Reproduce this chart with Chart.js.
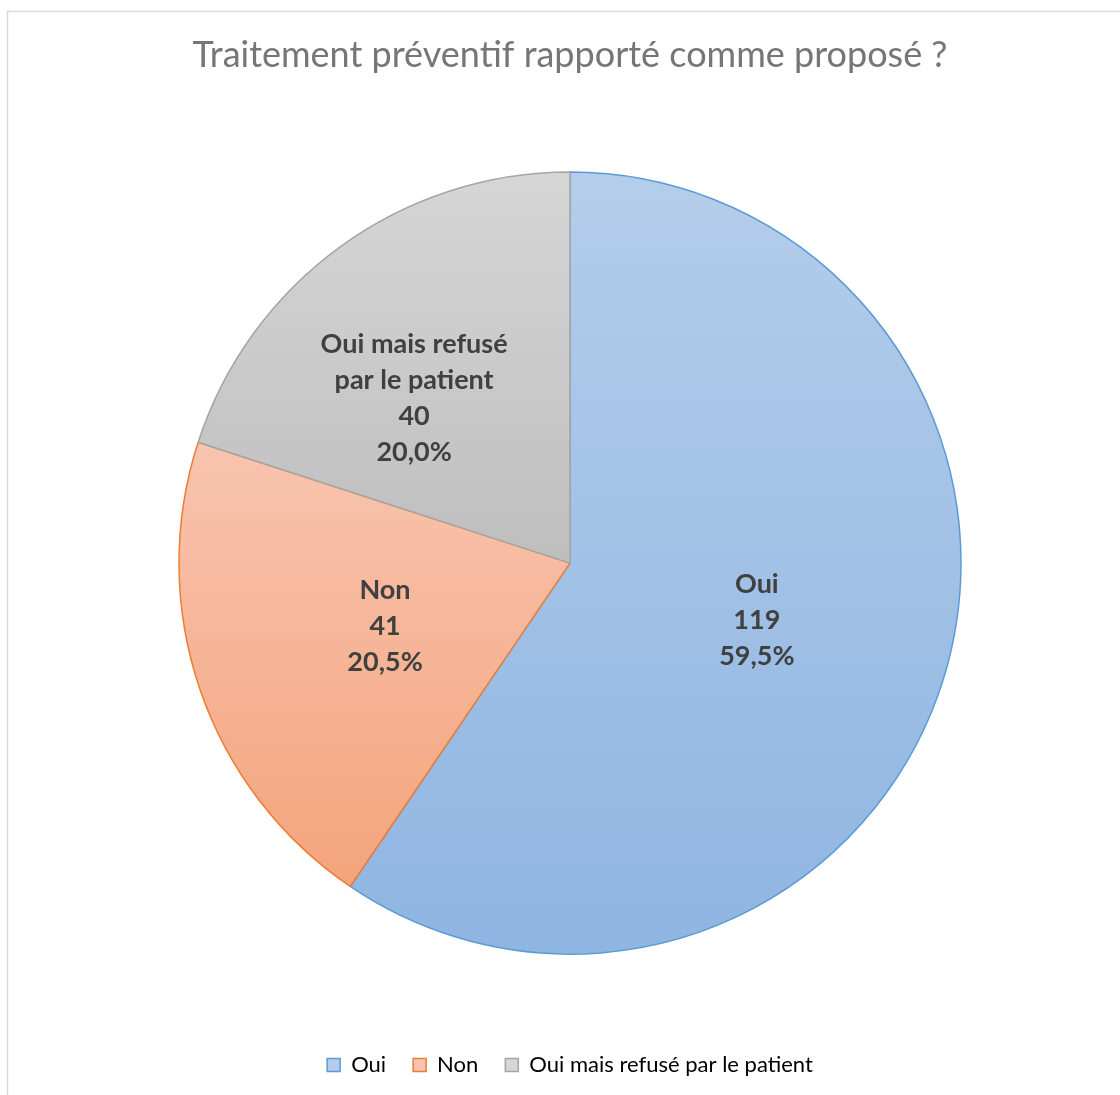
<!DOCTYPE html>
<html>
<head>
<meta charset="utf-8">
<script src="https://cdn.jsdelivr.net/npm/chart.js@4"></script>
<style>
	html, body { margin: 0; padding: 0; background: #fff; }
	canvas { display: block; }
</style>
</head>
<body>
<canvas id="pie" width="1120" height="1095"></canvas>
<script>
const categories = ['Oui', 'Non', 'Oui mais refusé par le patient'];
const counts = [119, 41, 40];
const chartTitle = 'Traitement préventif rapporté comme proposé ?';

// light (top) / dark (bottom) stops of each slice gradient, plus outline
const lightColors = ['rgb(180,205,234)', 'rgb(248,196,175)', 'rgb(214,214,214)'];
const darkColors = ['rgb(143,181,226)', 'rgb(244,164,124)', 'rgb(190,190,190)'];
const edgeColors = ['#5b9bd5', '#ed7d31', '#a5a5a5'];
const labelShift = [[0, 0], [0, 0], [-41, -7]];

const RADIUS = 391;
const total = counts.reduce((a, b) => a + b, 0);

function pct(v) {
	return (v / total * 100).toFixed(1).replace('.', ',') + '%';
}

// vertical extent of slice i (angles measured clockwise from 12 o'clock)
function sliceRange(i, cy) {
	let before = 0;
	for (let k = 0; k < i; k++) before += counts[k];
	const a0 = before / total * 2 * Math.PI;
	const a1 = (before + counts[i]) / total * 2 * Math.PI;
	const ys = [cy, cy - RADIUS * Math.cos(a0), cy - RADIUS * Math.cos(a1)];
	if (a0 <= 0.0001 || a1 >= 2 * Math.PI - 0.0001) ys.push(cy - RADIUS);
	if (a0 <= Math.PI && a1 >= Math.PI) ys.push(cy + RADIUS);
	return [Math.min(...ys), Math.max(...ys)];
}

function sliceFill(context) {
	const i = context.dataIndex;
	const area = context.chart.chartArea;
	if (i === undefined || !area) return lightColors[i || 0];
	const cy = (area.top + area.bottom) / 2;
	const [y0, y1] = sliceRange(i, cy);
	const g = context.chart.ctx.createLinearGradient(0, y0, 0, y1);
	g.addColorStop(0, lightColors[i]);
	g.addColorStop(1, darkColors[i]);
	return g;
}

const frame = {
	id: 'frame',
	beforeDraw(chart) {
		const ctx = chart.ctx;
		ctx.save();
		ctx.strokeStyle = '#d9d9d9';
		ctx.lineWidth = 1.5;
		ctx.strokeRect(7.5, 11.5, 1300, 1300);
		ctx.restore();
	}
};

const sliceLabels = {
	id: 'sliceLabels',
	afterDatasetsDraw(chart) {
		const ctx = chart.ctx;
		const arcs = chart.getDatasetMeta(0).data;
		ctx.save();
		ctx.font = 'bold 27px Lato';
		ctx.fillStyle = '#404040';
		ctx.textAlign = 'center';
		ctx.textBaseline = 'middle';
		arcs.forEach((arc, i) => {
			const p = arc.tooltipPosition();
			const lines = i === 2 ? ['Oui mais refusé', 'par le patient'] : [categories[i]];
			lines.push(String(counts[i]), pct(counts[i]));
			const x = p.x + labelShift[i][0];
			const y = p.y + labelShift[i][1] - (lines.length - 1) * 36 / 2;
			lines.forEach((t, k) => ctx.fillText(t, x, y + k * 36));
		});
		ctx.restore();
	}
};

const config = {
	type: 'pie',
	data: {
		labels: categories,
		datasets: [{
			data: counts,
			backgroundColor: sliceFill,
			borderColor: edgeColors,
			borderWidth: 1.5,
			radius: RADIUS
		}]
	},
	options: {
		responsive: false,
		animation: false,
		layout: { padding: { left: 20, right: 0, top: 0, bottom: 9 } },
		plugins: {
			title: {
				display: true,
				text: chartTitle,
				color: '#767676',
				font: { family: 'Lato', size: 36, weight: 'normal', lineHeight: 1.2 },
				padding: { top: 34, bottom: 22 }
			},
			legend: {
				display: true,
				position: 'bottom',
				labels: {
					color: '#595959',
					font: { family: 'Lato', size: 22 },
					boxWidth: 13,
					boxHeight: 13,
					padding: 27,
					generateLabels: (chart) => categories.map((c, i) => ({
						text: c,
						fillStyle: lightColors[i],
						strokeStyle: edgeColors[i],
						lineWidth: 1.5,
						index: i
					}))
				}
			},
			tooltip: { enabled: false }
		}
	},
	plugins: [frame, sliceLabels]
};

new Chart(document.getElementById('pie'), config);
</script>
</body>
</html>
